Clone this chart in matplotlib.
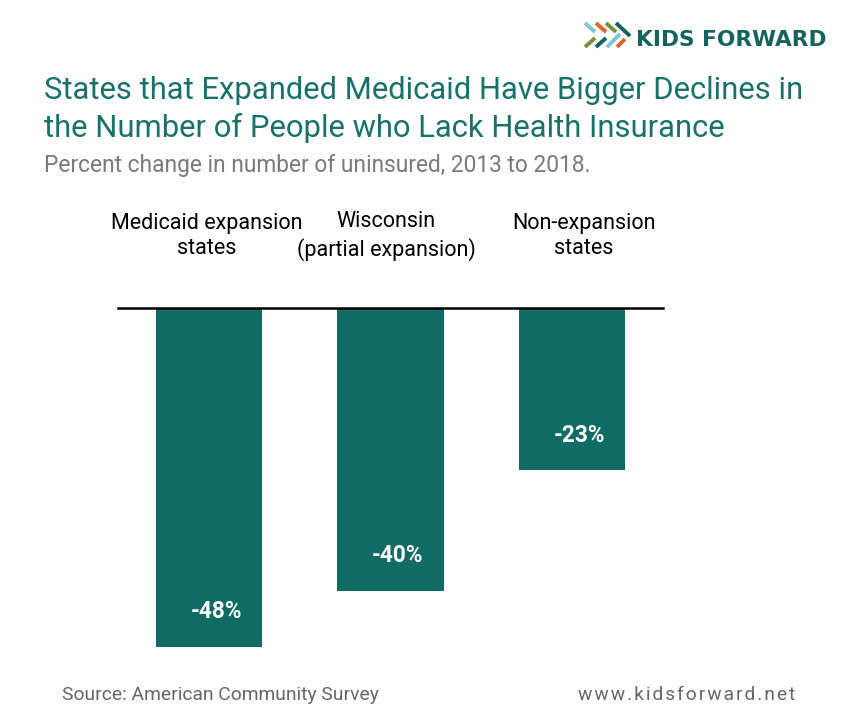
import numpy as np
import matplotlib.pyplot as plt

categories = ['Medicaid expansion\nstates', 'Wisconsin\n(partial expansion)', 'Non-expansion\nstates']
values = [-48, -40, -23]
value_labels = ['-48%', '-40%', '-23%']

W, H = 848, 723
plt.rcParams['font.family'] = ['Roboto', 'DejaVu Sans']

fig = plt.figure(figsize=(W / 100, H / 100), dpi=100)
fig.patch.set_facecolor('white')


def fx(x):
    return x / W


def fy(y):
    return 1 - y / H


teal = '#0f6b64'
title_teal = '#18716a'

# axes spans baseline line (118..663 px) and from baseline down to -48
ax = fig.add_axes([fx(118), fy(647), fx(663) - fx(118), (647 - 308) / H])
x = np.arange(len(categories))
ax.bar(x, values, width=0.585, color=teal)
ax.set_xlim(-0.5, 2.5)
ax.set_ylim(min(values), 0)
ax.axhline(0, color='black', lw=1.8, clip_on=False, zorder=3)
ax.axis('off')

for i, (v, lab) in enumerate(zip(values, value_labels)):
    ax.text(i + 0.04, v + 5, lab, ha='center', va='center', color='white',
            fontsize=16.3, fontweight='bold')

label_x = [207, 386, 584]
for lx, cat in zip(label_x, categories):
    fig.text(fx(lx), fy(236), cat, ha='center', va='center', fontsize=15.5,
             color='black', linespacing=1.3)

fig.text(fx(44), fy(99), 'States that Expanded Medicaid Have Bigger Declines in',
         fontsize=22.3, color=title_teal, va='baseline')
fig.text(fx(44), fy(137), 'the Number of People who Lack Health Insurance',
         fontsize=22.3, color=title_teal, va='baseline')
fig.text(fx(44), fy(172), 'Percent change in number of uninsured, 2013 to 2018.',
         fontsize=16.4, color='#7a7a7a', va='baseline')

fig.text(fx(62), fy(700), 'Source: American Community Survey', fontsize=13.9,
         color='#666666', va='baseline')
fig.text(fx(795), fy(700), 'w w w . k i d s f o r w a r d . n e t'.replace(' ', '\u200a'),
         fontsize=13.8, color='#666666', va='baseline', ha='right')

# logo
fig.text(fx(827), fy(46), 'KIDS FORWARD', fontsize=15.6, fontweight='bold',
         color='#13645e', va='baseline', ha='right', family='DejaVu Sans')
strokes = [
    (585, 23, 595, 32, '#7ec6d3'), (596, 23, 606, 32, '#e0642b'),
    (606, 23, 616, 32, '#7c8f3a'), (616, 23, 630, 36, '#13645e'),
    (585, 47, 595, 38, '#7c8f3a'), (596, 47, 606, 38, '#13645e'),
    (607, 47, 620, 34, '#7ec6d3'), (617, 47, 625, 39, '#e0642b'),
]
for x0, y0, x1, y1, c in strokes:
    fig.add_artist(plt.Line2D([fx(x0), fx(x1)], [fy(y0), fy(y1)], color=c,
                              lw=2.8, solid_capstyle='butt'))

fig.savefig('out.png', dpi=100)
